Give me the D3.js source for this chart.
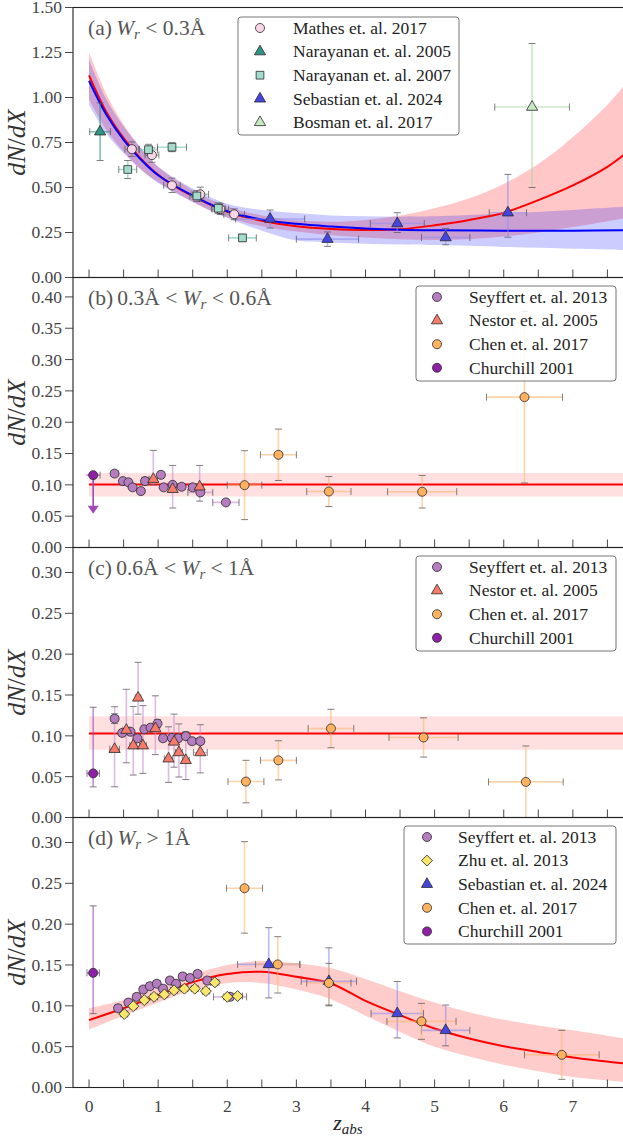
<!DOCTYPE html>
<html>
<head>
<meta charset="utf-8">
<script src="https://cdn.jsdelivr.net/npm/d3@7"></script>
<style>
  body { margin: 0; background: #fff; }
  text { font-family: "Liberation Serif", "DejaVu Serif", serif; }
</style>
</head>
<body>
<svg id="chart" width="623" height="1140"></svg>
<script>
// ---- data: [z, dN/dX, xerr, yerrLow, yerrHigh] ----

// (a) Wr < 0.3
const mathesA = [
  [0.62, 0.713, 0.10, 0.04], [0.91, 0.680, 0.10, 0.04], [1.20, 0.512, 0.12, 0.04],
  [1.61, 0.462, 0.12, 0.04], [1.90, 0.380, 0.12, 0.03], [2.10, 0.351, 0.15, 0.03]
];
const narayanan05A = [[0.16, 0.81, 0.15, 0.16]];
const narayanan07A = [
  [0.56, 0.600, 0.13, 0.05], [0.86, 0.710, 0.13, 0.03], [1.20, 0.724, 0.21, 0.025],
  [1.56, 0.453, 0.10, 0.03], [1.87, 0.385, 0.10, 0.03], [2.22, 0.220, 0.20, 0.02]
];
const sebastianA = [
  [2.62, 0.325, 0.50, 0.05], [3.45, 0.213, 0.45, 0.04], [4.46, 0.300, 0.39, 0.05, 0.06],
  [5.16, 0.222, 0.35, 0.04, 0.05], [6.06, 0.360, 0.27, 0.136, 0.213]
];
const bosmanA = [[6.41, 0.947, 0.54, 0.447, 0.353]];
const fitRedA = [[0,1.123],[0.25,0.92],[0.5,0.775],[0.75,0.66],[1,0.57],[1.25,0.505],[1.5,0.452],[2,0.365],[2.5,0.315],[3,0.285],[3.5,0.27],[4,0.264],[4.5,0.268],[5,0.29],[5.5,0.32],[6,0.36],[6.5,0.43],[7,0.512],[7.5,0.615],[7.75,0.685]];
const bandRedA = [[0,0.99,1.25],[0.25,0.82,1.02],[0.5,0.70,0.85],[0.75,0.60,0.72],[1,0.53,0.615],[1.5,0.42,0.485],[2,0.335,0.395],[2.5,0.285,0.345],[3,0.255,0.318],[3.5,0.235,0.31],[4,0.222,0.32],[4.5,0.212,0.345],[5,0.209,0.385],[5.5,0.213,0.44],[6,0.228,0.52],[6.5,0.25,0.63],[7,0.28,0.78],[7.5,0.313,0.96],[7.75,0.33,1.07]];
const fitBlueA = [[0,1.093],[0.25,0.905],[0.5,0.765],[0.75,0.655],[1,0.568],[1.5,0.455],[2,0.368],[2.5,0.322],[3,0.298],[3.5,0.283],[4,0.272],[4.5,0.265],[5,0.262],[6,0.26],[7,0.26],[7.75,0.262]];
const bandBlueA = [[0,0.96,1.21],[0.25,0.80,0.99],[0.5,0.69,0.84],[0.75,0.60,0.72],[1,0.525,0.615],[1.5,0.42,0.495],[2,0.33,0.41],[2.5,0.26,0.375],[3,0.205,0.358],[3.5,0.195,0.345],[4,0.188,0.34],[4.5,0.183,0.338],[5,0.18,0.34],[6,0.17,0.355],[7,0.16,0.375],[7.75,0.153,0.393]];

// (b) 0.3 < Wr < 0.6
const seyffertB = [
  [0.37,0.118,0.05,0.004],[0.49,0.106,0.04,0.004],[0.57,0.104,0.04,0.004],[0.63,0.096,0.04,0.004],
  [0.75,0.090,0.04,0.004],[0.81,0.106,0.05,0.006],[1.04,0.116,0.04,0.005],[1.08,0.096,0.04,0.004],
  [1.21,0.100,0.04,0.004],[1.34,0.097,0.05,0.004],[1.50,0.096,0.06,0.004],[1.61,0.088,0.18,0.005],
  [1.98,0.072,0.19,0.004]
];
const nestorB = [[0.93,0.109,0.06,0.009,0.046],[1.21,0.093,0.05,0.03,0.038],[1.60,0.097,0.05,0.023,0.034]];
const chenB = [[2.25,0.0995,0.25,0.055],[2.74,0.148,0.26,0.041],[3.47,0.0894,0.32,0.024],[4.82,0.089,0.50,0.026],[6.30,0.240,0.55,0.137]];
const churchillB = [[0.06,0.1155,0.10,0.06]]; // upper limit, arrow down
const fitB = [[0,0.1006],[7.75,0.1006]];
const bandB = [[0,0.0814,0.119],[7.75,0.0814,0.119]];

// (c) 0.6 < Wr < 1
const seyffertC = [
  [0.37,0.121,0.05,0.006],[0.48,0.1036,0.04,0.004],[0.60,0.105,0.04,0.004],[0.70,0.097,0.04,0.004],
  [0.80,0.108,0.04,0.004],[0.89,0.110,0.04,0.004],[0.99,0.115,0.04,0.005],[1.07,0.097,0.04,0.004],
  [1.20,0.0975,0.04,0.004],[1.29,0.097,0.04,0.004],[1.40,0.0996,0.04,0.004],[1.49,0.0934,0.04,0.004],
  [1.61,0.0934,0.05,0.004]
];
const nestorC = [
  [0.37,0.0836,0.07,0.046,0.052],[0.54,0.107,0.05,0.04,0.05],[0.64,0.088,0.05,0.036,0.048],
  [0.71,0.1465,0.04,0.02,0.0435],[0.78,0.088,0.05,0.034,0.049],[0.96,0.109,0.05,0.032,0.04],
  [1.15,0.072,0.06,0.029,0.039],[1.23,0.0926,0.05,0.031,0.034],[1.30,0.0796,0.05,0.03,0.035],
  [1.40,0.070,0.05,0.0235,0.035],[1.61,0.0796,0.10,0.025,0.034]
];
const chenC = [[2.27,0.044,0.26,0.026],[2.74,0.070,0.26,0.024],[3.50,0.109,0.33,0.0235],[4.84,0.098,0.50,0.024],[6.32,0.0436,0.54,0.06,0.044]];
const churchillC = [[0.06,0.054,0.09,0.0165,0.081]];
const fitC = [[0,0.1029],[7.75,0.1029]];
const bandC = [[0,0.083,0.124],[7.75,0.083,0.124]];

// (d) Wr > 1
const seyffertD = [
  [0.42,0.097,0.05,0.004],[0.57,0.104,0.05,0.004],[0.69,0.111,0.05,0.004],[0.785,0.120,0.05,0.004],
  [0.88,0.124,0.05,0.004],[0.98,0.127,0.05,0.004],[1.07,0.121,0.05,0.004],[1.17,0.131,0.05,0.004],
  [1.26,0.127,0.05,0.004],[1.355,0.136,0.05,0.004],[1.46,0.134,0.05,0.004],[1.57,0.139,0.05,0.004],
  [1.71,0.131,0.05,0.004],[2.04,0.111,0.24,0.004]
];
const zhuD = [
  [0.51,0.090,0.05,0.003],[0.64,0.0996,0.05,0.003],[0.80,0.107,0.05,0.003],[0.94,0.111,0.05,0.003],
  [1.09,0.114,0.05,0.003],[1.23,0.119,0.05,0.003],[1.38,0.121,0.05,0.003],[1.53,0.121,0.05,0.003],
  [1.69,0.118,0.05,0.003],[1.82,0.1287,0.06,0.003],[2.00,0.111,0.05,0.003],[2.15,0.112,0.07,0.003]
];
const sebastianD = [[2.60,0.1507,0.45,0.041,0.045],[3.47,0.130,0.40,0.03,0.041],[4.46,0.0907,0.38,0.03,0.039],[5.16,0.070,0.35,0.019,0.031]];
const chenD = [[2.25,0.244,0.26,0.055,0.057],[2.73,0.1507,0.32,0.035,0.034],[3.47,0.128,0.32,0.027,0.024],[4.81,0.081,0.50,0.022],[6.84,0.040,0.54,0.030]];
const churchillD = [[0.06,0.1404,0.09,0.05,0.082]];
const fitD = [[0,0.0825],[0.5,0.097],[1,0.113],[1.5,0.129],[2,0.139],[2.5,0.1417],[3,0.1355],[3.5,0.1274],[4,0.106],[4.5,0.0886],[5,0.0723],[5.5,0.060],[6,0.0506],[6.5,0.0436],[7,0.0368],[7.75,0.0294]];
const bandD = [[0,0.071,0.097],[0.5,0.088,0.107],[1,0.104,0.122],[1.5,0.119,0.138],[2,0.128,0.150],[2.5,0.128,0.155],[3,0.120,0.152],[3.5,0.108,0.146],[4,0.088,0.133],[4.5,0.068,0.118],[5,0.050,0.104],[5.5,0.038,0.092],[6,0.028,0.083],[6.5,0.020,0.076],[7,0.013,0.070],[7.75,0.007,0.060]];

const xTicks = [0, 1, 2, 3, 4, 5, 6, 7];

// ---- styles ----
const sty = {
  mathes:   { name: "Mathes et. al. 2017",     shape: "circle",   fill: "#f9d6e6", err: "#999999" },
  nar05:    { name: "Narayanan et. al. 2005",  shape: "triangle", fill: "#2f9483", err: "#2f9483" },
  nar07:    { name: "Narayanan et. al. 2007",  shape: "square",   fill: "#a3dccd", err: "#6cc4b2" },
  seb:      { name: "Sebastian et. al. 2024",  shape: "triangle", fill: "#4545e0", err: "#8f8fee" },
  bosman:   { name: "Bosman et. al. 2017",     shape: "triangle", fill: "#c8e9c1", err: "#a9dba0" },
  seyffert: { name: "Seyffert et. al. 2013",   shape: "circle",   fill: "#b57dc0", err: "#c48fcf" },
  nestor:   { name: "Nestor et. al. 2005",     shape: "triangle", fill: "#f57b6b", err: "#c48fcf" },
  chen:     { name: "Chen et. al. 2017",       shape: "circle",   fill: "#ffb25f", err: "#ffb570" },
  churchill:{ name: "Churchill 2001",          shape: "circle",   fill: "#8e1fa6", err: "#a248b6" },
  zhu:      { name: "Zhu et. al. 2013",        shape: "diamond",  fill: "#f9e66c", err: "#b9a0d8" }
};

const svg = d3.select("#chart");
const x = d3.scaleLinear().domain([-0.232, 7.74]).range([73, 624]);
const left = 73, right = 624;

const panels = [
  { id: "a", top: 7.5, bottom: 277.5, ymax: 1.5, ticks: d3.range(0, 1.51, 0.25),
    title: ["(a)\u2009", null, " < 0.3\u00c5"],
    bands: [{ d: bandRedA, c: "#ff0000", o: 0.22 }, { d: bandBlueA, c: "#0000ff", o: 0.2 }],
    fits: [{ d: fitRedA, c: "#ff0000" }, { d: fitBlueA, c: "#0000ff" }],
    series: [[mathesA, "mathes"], [narayanan05A, "nar05"], [narayanan07A, "nar07"], [sebastianA, "seb"], [bosmanA, "bosman"]],
    legend: { x: 238, y: 17, w: 221, h: 118, mx: 260, tx: 293, rows: ["mathes", "nar05", "nar07", "seb", "bosman"] } },
  { id: "b", top: 277.5, bottom: 547.5, ymax: 0.431, ticks: d3.range(0, 0.401, 0.05),
    title: ["(b)\u20090.3\u00c5 < ", null, " < 0.6\u00c5"],
    bands: [{ d: bandB, c: "#ff0000", o: 0.12 }], fits: [{ d: fitB, c: "#ff0000" }],
    series: [[seyffertB, "seyffert"], [nestorB, "nestor"], [chenB, "chen"]],
    limit: [churchillB, "churchill"],
    legend: { x: 416, y: 286, w: 200, h: 95, mx: 437, tx: 469, rows: ["seyffert", "nestor", "chen", "churchill"] } },
  { id: "c", top: 547.5, bottom: 817.5, ymax: 0.3306, ticks: d3.range(0, 0.301, 0.05),
    title: ["(c)\u20090.6\u00c5 < ", null, " < 1\u00c5"],
    bands: [{ d: bandC, c: "#ff0000", o: 0.12 }], fits: [{ d: fitC, c: "#ff0000" }],
    series: [[seyffertC, "seyffert"], [nestorC, "nestor"], [chenC, "chen"], [churchillC, "churchill"]],
    legend: { x: 416, y: 556, w: 200, h: 95, mx: 437, tx: 469, rows: ["seyffert", "nestor", "chen", "churchill"] } },
  { id: "d", top: 817.5, bottom: 1087.5, ymax: 0.3306, ticks: d3.range(0, 0.301, 0.05),
    title: ["(d)\u2009", null, " > 1\u00c5"],
    bands: [{ d: bandD, c: "#ff0000", o: 0.2 }], fits: [{ d: fitD, c: "#ff0000" }],
    series: [[seyffertD, "seyffert"], [zhuD, "zhu"], [sebastianD, "seb"], [chenD, "chen"], [churchillD, "churchill"]],
    legend: { x: 404, y: 826, w: 212, h: 118, mx: 427, tx: 458, rows: ["seyffert", "zhu", "seb", "chen", "churchill"] } }
];

function symbolPath(shape) {
  if (shape === "circle") return d3.symbol(d3.symbolCircle, 64)();
  if (shape === "triangle") return d3.symbol(d3.symbolTriangle, 54)();
  if (shape === "square") return d3.symbol(d3.symbolSquare, 60)();
  return d3.symbol(d3.symbolSquare, 60)();
}

function drawMarker(g, cx, cy, key) {
  const s = sty[key];
  g.append("path")
    .attr("d", symbolPath(s.shape))
    .attr("transform", `translate(${cx},${cy})` + (s.shape === "diamond" ? " rotate(45)" : ""))
    .attr("fill", s.fill)
    .attr("stroke", "#2a2a2a")
    .attr("stroke-width", 0.8);
}

panels.forEach(p => {
  const y = d3.scaleLinear().domain([0, p.ymax]).range([p.bottom, p.top]);
  const g = svg.append("g");

  svg.append("clipPath").attr("id", "clip" + p.id)
    .append("rect").attr("x", left).attr("y", p.top).attr("width", right - left).attr("height", p.bottom - p.top);
  const plot = g.append("g").attr("clip-path", `url(#clip${p.id})`);

  // bands
  const area = d3.area().x(d => x(d[0])).y0(d => y(d[1])).y1(d => y(d[2])).curve(d3.curveCatmullRom);
  p.bands.forEach(b => plot.append("path").attr("d", area(b.d)).attr("fill", b.c).attr("fill-opacity", b.o));

  // fit lines
  const line = d3.line().x(d => x(d[0])).y(d => y(d[1])).curve(d3.curveCatmullRom);
  p.fits.forEach(f => plot.append("path").attr("d", line(f.d)).attr("fill", "none")
    .attr("stroke", f.c).attr("stroke-width", 2));

  // error bars
  const eb = plot.append("g");
  const drawErr = (rows, key) => {
    const s = sty[key];
    rows.forEach(r => {
      const [z, v, ex, eLo] = r;
      const eHi = r[4] !== undefined ? r[4] : eLo;
      const cx = x(z), cy = y(v);
      const x0 = x(z - ex), x1 = x(z + ex), y0 = y(v - eLo), y1 = y(v + eHi);
      eb.append("line").attr("x1", x0).attr("x2", x1).attr("y1", cy).attr("y2", cy)
        .attr("stroke", s.err).attr("stroke-opacity", 0.6).attr("stroke-width", 1.6);
      eb.append("line").attr("x1", cx).attr("x2", cx).attr("y1", y0).attr("y2", y1)
        .attr("stroke", s.err).attr("stroke-opacity", 0.6).attr("stroke-width", 1.6);
      [[x0, cy, "v"], [x1, cy, "v"], [cx, y0, "h"], [cx, y1, "h"]].forEach(([a, b, o]) => {
        eb.append("line")
          .attr("x1", o === "v" ? a : a - 3.5).attr("x2", o === "v" ? a : a + 3.5)
          .attr("y1", o === "v" ? b - 3.5 : b).attr("y2", o === "v" ? b + 3.5 : b)
          .attr("stroke", "#555").attr("stroke-opacity", 0.75).attr("stroke-width", 1);
      });
    });
  };
  p.series.forEach(([rows, key]) => drawErr(rows, key));

  // upper limit (arrow)
  if (p.limit) {
    const [rows, key] = p.limit;
    const s = sty[key];
    rows.forEach(([z, v, ex, drop]) => {
      const cx = x(z), cy = y(v), ya = y(v - drop);
      eb.append("line").attr("x1", x(z - ex)).attr("x2", x(z + ex)).attr("y1", cy).attr("y2", cy)
        .attr("stroke", s.err).attr("stroke-opacity", 0.6).attr("stroke-width", 1.6);
      eb.append("line").attr("x1", x(z + ex)).attr("x2", x(z + ex)).attr("y1", cy - 3.5).attr("y2", cy + 3.5)
        .attr("stroke", "#555").attr("stroke-opacity", 0.75);
      eb.append("line").attr("x1", cx).attr("x2", cx).attr("y1", cy).attr("y2", ya - 4)
        .attr("stroke", s.err).attr("stroke-width", 1.6);
      eb.append("path").attr("d", `M${cx - 5.5},${ya - 7}L${cx + 5.5},${ya - 7}L${cx},${ya + 1}Z`)
        .attr("fill", s.err);
    });
    p.series.push([rows, key]);
  }

  // markers
  const mk = plot.append("g");
  p.series.forEach(([rows, key]) => rows.forEach(r => drawMarker(mk, x(r[0]), y(r[1]), key)));

  // frame
  g.append("rect").attr("x", left).attr("y", p.top).attr("width", right - left).attr("height", p.bottom - p.top)
    .attr("fill", "none").attr("stroke", "#222").attr("stroke-width", 1.1);

  // x ticks (inward) every 0.5
  d3.range(0, 7.76, 0.5).forEach(t => {
    g.append("line").attr("x1", x(t)).attr("x2", x(t)).attr("y1", p.bottom).attr("y2", p.bottom - 8)
      .attr("stroke", "#333").attr("stroke-width", 0.9);
  });

  // y ticks (outward)
  p.ticks.forEach(t => {
    g.append("line").attr("x1", left - 8).attr("x2", left).attr("y1", y(t)).attr("y2", y(t))
      .attr("stroke", "#333").attr("stroke-width", 0.9);
    g.append("text").attr("x", left - 11).attr("y", y(t)).attr("dy", "0.34em")
      .attr("text-anchor", "end").attr("font-size", 17.5).attr("fill", "#444")
      .text(d3.format(".2f")(t));
  });

  // y label
  const yl = g.append("text")
    .attr("transform", `translate(25,${(p.top + p.bottom) / 2}) rotate(-90)`)
    .attr("text-anchor", "middle").attr("font-size", 26).attr("fill", "#333").attr("font-style", "italic");
  yl.append("tspan").text("dN");
  yl.append("tspan").attr("font-style", "normal").text("/");
  yl.append("tspan").text("dX");

  // panel title
  const tt = g.append("text").attr("x", 88).attr("y", p.top + 27).attr("font-size", 21.5).attr("fill", "#555");
  tt.append("tspan").text(p.title[0]);
  tt.append("tspan").attr("font-style", "italic").text("W");
  tt.append("tspan").attr("font-style", "italic").attr("font-size", 15).attr("dy", 4).text("r");
  tt.append("tspan").attr("dy", -4).text(p.title[2]);

  // legend
  const L = p.legend;
  const lg = g.append("g");
  lg.append("rect").attr("x", L.x).attr("y", L.y).attr("width", L.w).attr("height", L.h).attr("rx", 3)
    .attr("fill", "#fff").attr("fill-opacity", 0.85).attr("stroke", "#666").attr("stroke-width", 0.9);
  L.rows.forEach((key, i) => {
    const ry = L.y + 11 + i * 23.6;
    drawMarker(lg, L.mx, ry, key);
    lg.append("text").attr("x", L.tx).attr("y", ry).attr("dy", "0.33em")
      .attr("font-size", 17.5).attr("fill", "#222").text(sty[key].name);
  });

  // x tick labels on bottom panel only
  if (p.id === "d") {
    xTicks.forEach(t => {
      g.append("text").attr("x", x(t)).attr("y", p.bottom + 24).attr("text-anchor", "middle")
        .attr("font-size", 17.5).attr("fill", "#444").text(t);
    });
    const xl = g.append("text").attr("x", 348).attr("y", 1130).attr("text-anchor", "middle")
      .attr("font-size", 22).attr("fill", "#222").attr("font-style", "italic");
    xl.append("tspan").text("z");
    xl.append("tspan").attr("font-size", 15).attr("dy", 4).text("abs");
  }
});
</script>
</body>
</html>
